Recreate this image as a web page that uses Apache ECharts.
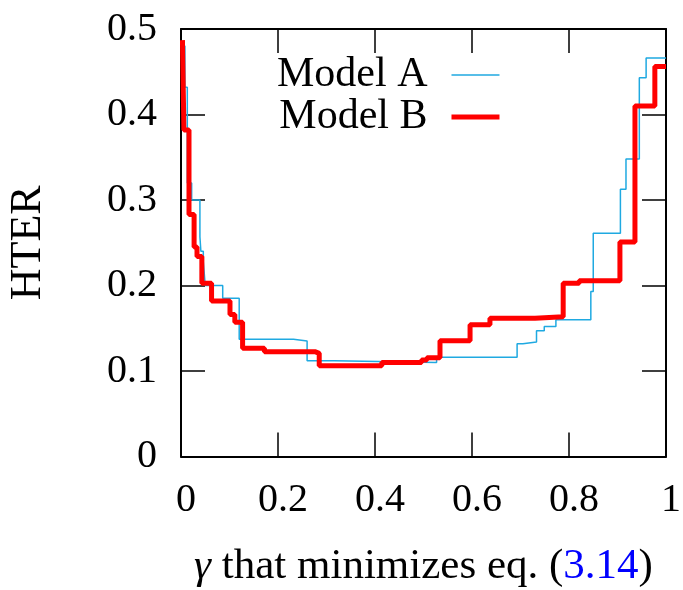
<!DOCTYPE html>
<html>
<head>
<meta charset="utf-8">
<script src="https://cdn.jsdelivr.net/npm/echarts@6/dist/echarts.min.js"></script>
<style>html,body{margin:0;padding:0;background:#fff}#c{width:683px;height:590px}</style>
</head>
<body>
<div id="c"></div>
<script>
// Step data: value y[i] holds from x[i] until x[i+1]
const modelA_x = [0.003, 0.008, 0.013, 0.022, 0.039, 0.041, 0.046, 0.050, 0.086, 0.120, 0.232, 0.260, 0.316, 0.527, 0.693, 0.705, 0.733, 0.749, 0.773, 0.845, 0.850, 0.906, 0.9175, 0.945, 0.959, 1.0];
const modelA_y = [0.48, 0.432, 0.32, 0.30, 0.257, 0.24, 0.228, 0.200, 0.185, 0.137, 0.135, 0.112, 0.110, 0.116, 0.132, 0.134, 0.147, 0.152, 0.160, 0.193, 0.261, 0.3125, 0.348, 0.443, 0.466, 0.466];
const modelB_x = [0.003, 0.006, 0.0165, 0.027, 0.033, 0.043, 0.063, 0.101, 0.111, 0.127, 0.172, 0.276, 0.285, 0.414, 0.496, 0.507, 0.534, 0.596, 0.637, 0.730, 0.788, 0.821, 0.905, 0.936, 0.977, 1.0];
const modelB_y = [0.487, 0.382, 0.283, 0.245, 0.234, 0.2026, 0.182, 0.166, 0.157, 0.1265, 0.1226, 0.1207, 0.106, 0.110, 0.113, 0.1156, 0.1355, 0.154, 0.1616, 0.1635, 0.2026, 0.2056, 0.251, 0.41, 0.456, 0.456];
const seriesNames = ['Model A', 'Model B'];
const xTickLabels = ['0', '0.2', '0.4', '0.6', '0.8', '1'];
const yTickLabels = ['0', '0.1', '0.2', '0.3', '0.4', '0.5'];

const FONT = 'Liberation Serif';
const zip = (xs, ys) => xs.map((x, i) => [x, ys[i]]);

const chart = echarts.init(document.getElementById('c'), null, {renderer: 'canvas'});
const axisLine = {show: true, onZero: false, lineStyle: {color: '#000', width: 2}};
const tick = {show: true, inside: true, length: 24, lineStyle: {color: '#000', width: 1.5}};
chart.setOption({
  animation: false,
  backgroundColor: '#fff',
  grid: {left: 181, right: 17, top: 29, bottom: 133.5, containLabel: false, outerBoundsMode: 'none'},
  legend: {
    orient: 'vertical', left: 272, top: 49, align: 'right',
    itemWidth: 48, itemHeight: 14, itemGap: 0,
    itemStyle: {opacity: 0},
    textStyle: {fontFamily: FONT, fontSize: 42, lineHeight: 39, color: '#000', padding: [0, 19, 0, 0]},
    data: [
      {name: seriesNames[0], lineStyle: {width: 1.5}},
      {name: seriesNames[1], lineStyle: {width: 5}}
    ]
  },
  xAxis: [{
    type: 'value', min: 0, max: 1, interval: 0.2, position: 'bottom',
    axisLine, axisTick: tick, splitLine: {show: false},
    axisLabel: {margin: 24, fontFamily: FONT, fontSize: 40, color: '#000', padding: [0, 0, 0, 10],
      formatter: v => xTickLabels[Math.round(v / 0.2)]},
    name: '{g|γ} that minimizes eq. ({b|3.14})',
    nameLocation: 'middle', nameGap: 89,
    nameTextStyle: {fontFamily: FONT, fontSize: 43, color: '#000',
      rich: {g: {fontFamily: FONT, fontSize: 43, fontStyle: 'italic', color: '#000'},
             b: {fontFamily: FONT, fontSize: 43, color: '#0000ff'}}}
  }, {
    type: 'value', min: 0, max: 1, interval: 0.2, position: 'top',
    axisLine, axisTick: tick, splitLine: {show: false}, axisLabel: {show: false}
  }],
  yAxis: [{
    type: 'value', min: 0, max: 0.5, interval: 0.1, position: 'left',
    axisLine, axisTick: tick, splitLine: {show: false},
    axisLabel: {margin: 24, fontFamily: FONT, fontSize: 40, color: '#000',
      formatter: v => yTickLabels[Math.round(v / 0.1)]},
    name: 'HTER', nameLocation: 'middle', nameGap: 131, nameRotate: 90,
    nameTextStyle: {fontFamily: FONT, fontSize: 44, color: '#000'}
  }, {
    type: 'value', min: 0, max: 0.5, interval: 0.1, position: 'right',
    axisLine, axisTick: tick, splitLine: {show: false}, axisLabel: {show: false}
  }],
  series: [{
    name: seriesNames[0], type: 'line', step: 'end', symbol: 'none',
    xAxisIndex: 0, yAxisIndex: 0,
    lineStyle: {color: '#1fa9e1', width: 1.5}, itemStyle: {color: '#1fa9e1'},
    data: zip(modelA_x, modelA_y), z: 2
  }, {
    name: seriesNames[1], type: 'line', step: 'end', symbol: 'none',
    xAxisIndex: 0, yAxisIndex: 0,
    lineStyle: {color: '#ff0000', width: 5}, itemStyle: {color: '#ff0000'},
    data: zip(modelB_x, modelB_y), z: 3
  }]
});
</script>
</body>
</html>
